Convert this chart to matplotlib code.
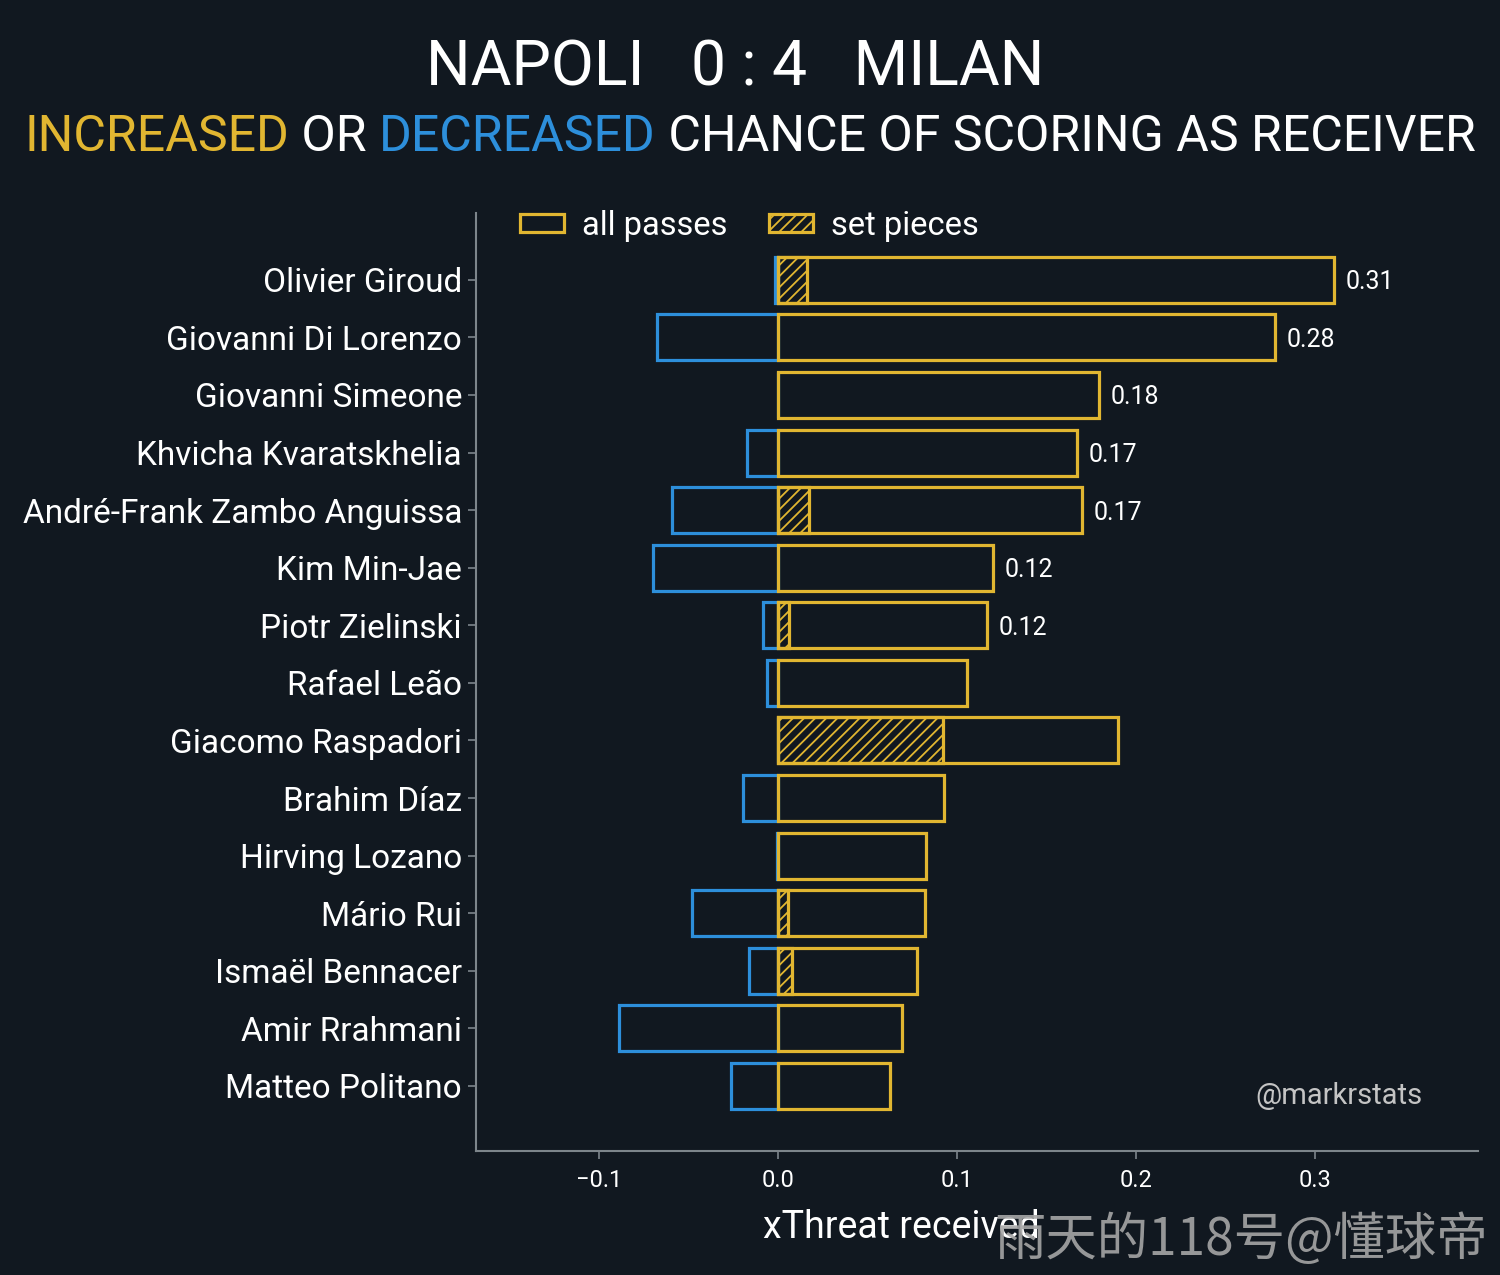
import matplotlib
matplotlib.use("Agg")
import matplotlib.pyplot as plt
from matplotlib.patches import Patch

players = ["Olivier Giroud", "Giovanni Di Lorenzo", "Giovanni Simeone",
           "Khvicha Kvaratskhelia", "André-Frank Zambo Anguissa", "Kim Min-Jae",
           "Piotr Zielinski", "Rafael Leão", "Giacomo Raspadori", "Brahim Díaz",
           "Hirving Lozano", "Mário Rui", "Ismaël Bennacer", "Amir Rrahmani",
           "Matteo Politano"]
increased = [0.3106, 0.2777, 0.1793, 0.1670, 0.1698, 0.1201, 0.1168, 0.1056,
             0.1900, 0.0927, 0.0827, 0.0821, 0.0777, 0.0693, 0.0626]
decreased = [-0.0017, -0.0676, 0.0, -0.0173, -0.0592, -0.0698, -0.0084, -0.0061,
             0.0, -0.0196, -0.0005, -0.0480, -0.0162, -0.0888, -0.0263]
set_pieces = [0.0162, 0.0, 0.0, 0.0, 0.0173, 0.0, 0.0061, 0.0,
              0.0922, 0.0, 0.0, 0.0056, 0.0078, 0.0, 0.0]
show_label = [True, True, True, True, True, True, True, False,
              False, False, False, False, False, False, False]
xticks = [-0.1, 0.0, 0.1, 0.2, 0.3]

BG = "#111820"
YEL = "#E1B631"
BLU = "#2D8FDB"
SPINE = "#7d858b"
FONT = "Roboto"

plt.rcParams['font.family'] = [FONT, 'DejaVu Sans']
plt.rcParams['hatch.linewidth'] = 1.3

fig = plt.figure(figsize=(15, 12.75), dpi=100, facecolor=BG)
ax = fig.add_axes([476/1500, 1-1151/1275, (1478-476)/1500, (1151-213)/1275])
ax.set_facecolor(BG)

ypos = list(range(len(players)))
h = 0.8
lw = 2.3
ax.barh(ypos, decreased, height=h, facecolor='none', edgecolor=BLU, linewidth=lw, zorder=2)
ax.barh(ypos, increased, height=h, facecolor='none', edgecolor=YEL, linewidth=lw, zorder=3)
sp_y = [y for y, s in zip(ypos, set_pieces) if s > 0]
sp_v = [s for s in set_pieces if s > 0]
ax.barh(sp_y, sp_v, height=h, facecolor='none', edgecolor=YEL, hatch='///', linewidth=lw, zorder=4)

for y, v, show in zip(ypos, increased, show_label):
    if show:
        ax.text(v + 0.0065, y, f"{v:.2f}", color='white', fontsize=18,
                va='center_baseline', ha='left')

ax.set_xlim(-0.1687, 0.391)
ax.set_ylim(len(players) - 1 + 1.13, -1.16)
ax.set_yticks(ypos)
ax.set_yticklabels(players)
ax.set_xticks(xticks)
ax.set_xticklabels([f"{t:.1f}".replace("-", "\u2212") for t in xticks])
ax.tick_params(axis='y', colors=SPINE, labelcolor='white', labelsize=24, length=6, width=1.2, pad=4)
ax.tick_params(axis='x', colors=SPINE, labelcolor='white', labelsize=17, length=6, width=1.2, pad=7)
for s in ['top', 'right']:
    ax.spines[s].set_visible(False)
for s in ['left', 'bottom']:
    ax.spines[s].set_color(SPINE)
    ax.spines[s].set_linewidth(1.5)

handles = [Patch(facecolor='none', edgecolor=YEL, linewidth=lw, label='all passes'),
           Patch(facecolor='none', edgecolor=YEL, hatch='///', linewidth=lw, label='set pieces')]
ax.legend(handles=handles, loc='upper left', bbox_to_anchor=(0.015, 1.035), ncol=2,
          frameon=False, fontsize=23.5, labelcolor='white', handlelength=1.35,
          handleheight=0.5, handletextpad=0.55, columnspacing=1.25)

ax.text(0.945, 0.0586, "@markrstats", transform=ax.transAxes, color='#c4c4c4',
        fontsize=21, ha='right', va='center')

fig.text(901/1500, 1-1227/1275, "xThreat received", color='white', fontsize=27,
         ha='center', va='center')

fig.text(735/1500, 1-68/1275, "NAPOLI   0 : 4   MILAN", color='white', fontsize=45,
         ha='center', va='center')

# Subtitle with coloured parts
parts = [("INCREASED", YEL), (" OR ", 'white'), ("DECREASED", BLU),
         (" CHANCE OF SCORING AS RECEIVER", 'white')]
renderer = fig.canvas.get_renderer()
texts = []
for s, c in parts:
    t = fig.text(0, 1-137/1275, s, color=c, fontsize=36, ha='left', va='center')
    texts.append(t)
widths = [t.get_window_extent(renderer).width for t in texts]
total = sum(widths)
x0 = 750 - total/2
for t, w in zip(texts, widths):
    t.set_x(x0/1500)
    x0 += w

fig.text(1488/1500, 1-1240/1275, "雨天的118号@懂球帝", color='#a6a6a6', alpha=0.9,
         fontsize=37, ha='right', va='center', family=['Noto Sans CJK SC', 'DejaVu Sans'])

fig.savefig("out.png", dpi=100, facecolor=BG)
